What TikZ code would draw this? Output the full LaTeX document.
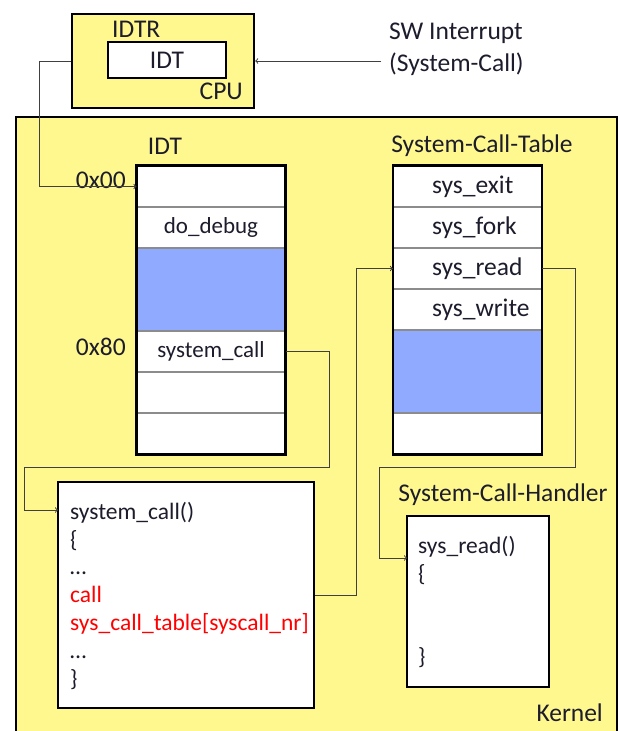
\documentclass[tikz,border=0pt]{standalone}
\usepackage{fontspec}
\setmainfont{Carlito}
\usetikzlibrary{positioning}

\definecolor{kyellow}{HTML}{FFF88E}
\definecolor{kblue}{HTML}{8FAAFF}
\definecolor{ink}{HTML}{1C1C2C}
\definecolor{wire}{HTML}{404040}

\begin{document}
\begin{tikzpicture}[
  x=1pt, y=-1pt,
  every node/.style={font=\fontsize{25.5}{32}\selectfont, text=ink},
  code/.style={inner sep=0pt, align=left, font=\fontsize{23.5}{27.8}\selectfont},
  box/.style={draw=black, line width=2.4pt},
  row/.style={rectangle, draw=black!45, line width=1.2pt, fill=white,
    minimum width=148pt, minimum height=41pt, inner sep=0pt},
  gap/.style={row, fill=kblue, minimum height=83pt},
  entry/.style={inner sep=0pt},
  link/.style={draw=wire, line width=1pt, ->},
  >=to
]
  \clip (0,0) rectangle (619,731);

  % kernel area
  \draw[box, fill=kyellow] (16,117) rectangle (617,745);
  \node[entry, anchor=east] (kernel) at (603,713) {Kernel};

  % cpu with its IDT register
  \node[box, fill=kyellow, minimum width=182pt, minimum height=94pt, inner sep=0pt] (cpu) at (163,61) {};
  \node[entry, anchor=west] (idtrlbl) at (112,29) {IDTR};
  \node[box, fill=white, minimum width=118pt, minimum height=36pt, inner sep=0pt] (idtr) at (167,60) {IDT};
  \node[entry, anchor=east] (cpulbl) at (243,91) {CPU};
  \node[entry, anchor=west, align=left] (sw) at (389,49) {SW Interrupt\\(System-Call)};

  % interrupt descriptor table
  \node[entry] (idtlbl) at (165,146) {IDT};
  \node[row] (idt0) at (211,186.5) {};
  \node[row, font=\fontsize{23}{28}\selectfont] (idt1) at (211,227.5) {do\_debug};
  \node[gap] (idt2) at (211,289.5) {};
  \node[row, font=\fontsize{23}{28}\selectfont] (idt3) at (211,351.5) {system\_call};
  \node[row] (idt4) at (211,392.5) {};
  \node[row] (idt5) at (211,433.5) {};
  \draw[box] (idt0.north west) rectangle (idt5.south east);
  \node[entry, anchor=east] (off0) at (126,180) {0x00};
  \node[entry, anchor=east] (off80) at (126,347) {0x80};

  % system call table
  \node[entry] (sctlbl) at (482,146) {System-Call-Table};
  \node[row] (sct0) at (467.5,186.5) {};
  \node[row] (sct1) at (467.5,227.5) {};
  \node[row] (sct2) at (467.5,268.5) {};
  \node[row] (sct3) at (467.5,309.5) {};
  \node[gap] (sct4) at (467.5,371.5) {};
  \node[row] (sct5) at (467.5,433.5) {};
  \draw[box] (sct0.north west) rectangle (sct5.south east);
  \node[entry, right=39pt of sct0.west] {sys\_exit};
  \node[entry, right=39pt of sct1.west] {sys\_fork};
  \node[entry, right=39pt of sct2.west] {sys\_read};
  \node[entry, right=39pt of sct3.west] {sys\_write};

  % entry code
  \node[box, fill=white, minimum width=256pt, minimum height=226pt, inner sep=0pt] (sysc) at (186,595) {};
  \node[code, anchor=north west] (sysccode) at (70,502)
    {system\_call()\\\{\\…\\\textcolor{red}{call}\\\textcolor{red}{sys\_call\_table[syscall\_nr]}\\…\\\}};
  \coordinate (syscin) at (58,510);

  % handler
  \node[entry] (hndlbl) at (503,495) {System-Call-Handler};
  \node[box, fill=white, minimum width=142pt, minimum height=171pt, inner sep=0pt] (hnd) at (478,601.5) {};
  \node[code, anchor=north west] (hndcode) at (418,536)
    {sys\_read()\\\{\\~\\~\\\}};
  \coordinate (hndin) at (407,558);

  % connectors
  \draw[link, shorten <=8pt] (sw.west |- cpu.east) -- (cpu.east);
  \draw[link] (cpu.west) -- ++(-31,0) |- (idt0.west);
  \draw[link] (idt3.east) -- ++(44,0) |- (24,467) |- (syscin);
  \draw[link] (sysc.east) -- ++(41,0) |- (sct2.west);
  \draw[link] (sct2.east) -- ++(33,0) |- (379,467) |- (hndin);
\end{tikzpicture}
\end{document}
